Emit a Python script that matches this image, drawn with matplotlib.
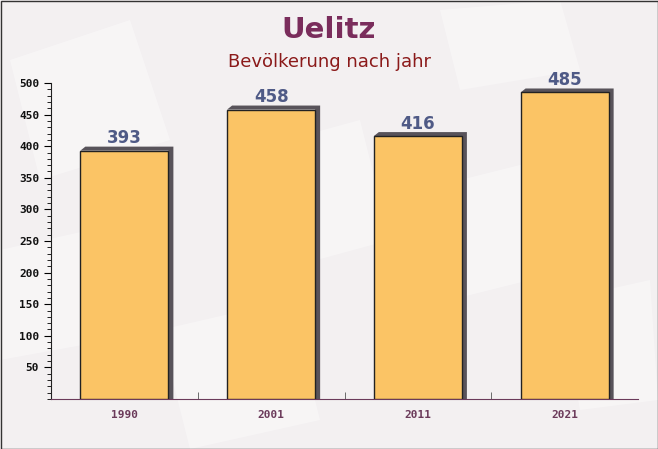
import numpy as np
import matplotlib.pyplot as plt
from matplotlib.patches import Rectangle, Polygon

years = ['1990', '2001', '2011', '2021']
population = [393, 458, 416, 485]

TITLE = 'Uelitz'
SUBTITLE = 'Bevölkerung nach jahr'

fig = plt.figure(figsize=(6.58, 4.49), dpi=100)
fig.patch.set_facecolor('#f3f0f1')

# faint envelope-ish shapes in the background
bg = fig.add_axes([0, 0, 1, 1], zorder=0)
bg.set_xlim(0, 658)
bg.set_ylim(449, 0)
bg.axis('off')
shapes = [
    [(10, 60), (130, 20), (170, 140), (40, 180)],
    [(250, 150), (360, 120), (390, 240), (280, 270)],
    [(420, 190), (540, 160), (570, 270), (450, 300)],
    [(560, 300), (650, 280), (658, 400), (580, 410)],
    [(160, 330), (290, 300), (320, 420), (190, 449)],
    [(0, 250), (90, 230), (110, 340), (0, 360)],
    [(440, 10), (560, 0), (580, 70), (460, 90)],
]
for s in shapes:
    bg.add_patch(Polygon(s, closed=True, facecolor='white', alpha=0.35, lw=0))
# thin border
bg.add_patch(Rectangle((0.5, 0.5), 657, 448, fill=False, ec='#333333', lw=1))

ax = fig.add_axes([51 / 658, 1 - 399 / 449, 587 / 658, 316 / 449], zorder=1)
ax.set_facecolor('none')

x = np.arange(len(years))
w = 0.6
# shadow offset in data units
dx = 5 / 147
dy = 4 / 0.632
for xi, v in zip(x, population):
    ax.add_patch(Polygon([(xi - w / 2, v), (xi - w / 2 + dx, v + dy),
                          (xi + w / 2 + dx, v + dy), (xi + w / 2 + dx, 0),
                          (xi + w / 2, 0), (xi + w / 2, v)],
                         closed=True, facecolor='#58535a', lw=0, zorder=2))
ax.bar(x, population, width=w, color='#fbc465', edgecolor='#222222',
       linewidth=1, zorder=3)

for xi, v in zip(x, population):
    ax.text(xi, v + 5, str(v), ha='center', va='bottom', fontsize=12,
            fontweight='bold', color='#4f5a86', family='DejaVu Sans', zorder=4)

ax.set_xlim(-0.5, 3.5)
ax.set_ylim(0, 500)
ax.set_yticks(np.arange(50, 501, 50))
ax.set_yticks(np.arange(0, 501, 10), minor=True)
ax.set_xticks(x)
ax.set_xticklabels(years)
ax.set_xticks(np.arange(0.5, 3.5, 1), minor=True)

for sp in ['top', 'right']:
    ax.spines[sp].set_visible(False)
ax.spines['left'].set_color('#222222')
ax.spines['bottom'].set_color('#6b3a5a')

ax.tick_params(axis='y', which='major', length=5, labelsize=8, labelcolor='#111111')
ax.tick_params(axis='y', which='minor', length=3)
ax.tick_params(axis='x', which='major', length=0, pad=8, labelsize=8, labelcolor='#6b3a5a')
ax.tick_params(axis='x', which='minor', direction='in', length=5, color='#555555')
for lab in ax.get_xticklabels() + ax.get_yticklabels():
    lab.set_family('DejaVu Sans Mono')
    lab.set_fontweight('bold')

fig.text(0.5, 1 - 30 / 449, TITLE, ha='center', va='center', fontsize=21,
         fontweight='bold', color='#7a2d5c')
fig.text(0.5, 1 - 62 / 449, SUBTITLE, ha='center', va='center', fontsize=13,
         color='#8b1a1a')

fig.savefig('out.png', dpi=100, facecolor=fig.get_facecolor())
